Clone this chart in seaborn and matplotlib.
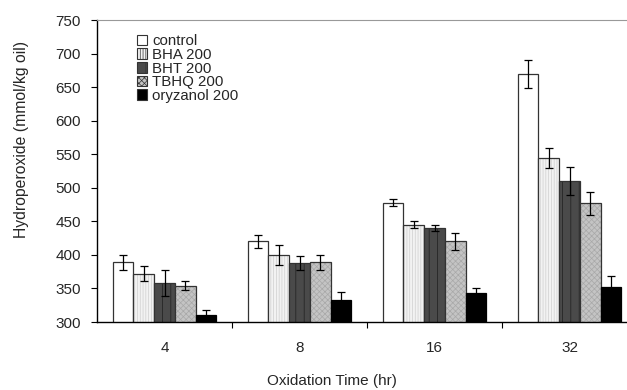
import numpy as np
import pandas as pd
import matplotlib
matplotlib.use("Agg")
import matplotlib.pyplot as plt
import seaborn as sns

# Values
times = ["4", "8", "16", "32"]
treatments = ["control", "BHA 200", "BHT 200", "TBHQ 200", "oryzanol 200"]
control = [389, 420, 478, 670]
bha = [372, 400, 445, 545]
bht = [358, 388, 440, 510]
tbhq = [354, 389, 420, 477]
oryzanol = [310, 333, 343, 352]
control_err = [11, 10, 5, 21]
bha_err = [11, 15, 5, 15]
bht_err = [19, 11, 5, 21]
tbhq_err = [7, 11, 12, 17]
oryzanol_err = [8, 11, 7, 17]

values = [control, bha, bht, tbhq, oryzanol]
errors = [control_err, bha_err, bht_err, tbhq_err, oryzanol_err]

rows = []
for name, vals, errs in zip(treatments, values, errors):
    for t, v, e in zip(times, vals, errs):
        rows.append({"time": t, "treatment": name, "value": v, "err": e})
df = pd.DataFrame(rows)

# styling for each treatment: face, hatch, hatch colour
faces = ["white", "#f2f2f2", "#4a4a4a", "#c4c4c4", "black"]
hatches = [None, "||||||", "||", "xxxxxx", None]
hatch_cols = ["#555555", "#cfcfcf", "#1e1e1e", "#a8a8a8", "black"]

sns.set_style("white")
plt.rcParams["font.family"] = ["Liberation Sans", "DejaVu Sans"]
plt.rcParams["hatch.linewidth"] = 0.5

fig = plt.figure(figsize=(6.27, 3.9), dpi=100)
ax = fig.add_axes([97 / 627, 68 / 390, 540 / 627, 302 / 390])

sns.barplot(data=df, x="time", y="value", hue="treatment", order=times,
            hue_order=treatments, width=0.77, errorbar=None, ax=ax,
            legend=False, saturation=1)

# color / hatch each bar and add error bars
n_t = len(times)
for i, name in enumerate(treatments):
    bars = ax.patches[i * n_t:(i + 1) * n_t]
    sub = df[df.treatment == name]
    for bar, (_, r) in zip(bars, sub.iterrows()):
        bar.set_facecolor(faces[i])
        bar.set_edgecolor("#333333" if i != 4 else "black")
        bar.set_linewidth(0.9)
        if hatches[i]:
            bar.set_hatch(hatches[i])
            bar._hatch_color = matplotlib.colors.to_rgba(hatch_cols[i])
        cx = bar.get_x() + bar.get_width() / 2
        ax.errorbar(cx, r["value"], yerr=r["err"], fmt="none", ecolor="black",
                    elinewidth=0.9, capsize=3, capthick=0.9, zorder=5)

ax.set_ylim(300, 750)
ax.set_yticks(np.arange(300, 751, 50))
ax.set_xlim(-0.5, 3.5)
ax.set_xticks(range(n_t))
ax.set_xticklabels(times)
ax.set_xticks([0.5, 1.5, 2.5], minor=True)
ax.tick_params(axis="x", which="major", length=0, pad=13.5, labelsize=11)
ax.tick_params(axis="x", which="minor", direction="out", length=4,
               width=0.8, color="black", bottom=True)
ax.tick_params(axis="y", direction="out", length=4.5, width=0.8,
               color="black", left=True, labelsize=11, pad=7)

for s in ["left", "bottom"]:
    ax.spines[s].set_color("black")
    ax.spines[s].set_linewidth(1.0)
ax.spines["top"].set_color("#999999")
ax.spines["top"].set_linewidth(0.8)
ax.spines["right"].set_visible(False)

ax.set_xlabel("Oxidation Time (hr)", fontsize=11)
ax.set_ylabel("Hydroperoxide (mmol/kg oil)", fontsize=11.3)
ax.xaxis.set_label_coords((332 - 97) / 540, -52 / 302)
ax.yaxis.set_label_coords(-68 / 540, (322 - 140) / 302)

handles = []
for i, name in enumerate(treatments):
    p = matplotlib.patches.Patch(facecolor=faces[i], edgecolor="#333333",
                                 hatch=hatches[i], linewidth=0.8, label=name)
    handles.append(p)
ax.legend(handles=handles, loc="upper left", bbox_to_anchor=(0.0685, 0.963),
          frameon=False, fontsize=10.8, handlelength=0.7, handleheight=0.7,
          handletextpad=0.3, labelspacing=-0.02, borderaxespad=0,
          borderpad=0.2)

fig.savefig("out.png", dpi=100)
